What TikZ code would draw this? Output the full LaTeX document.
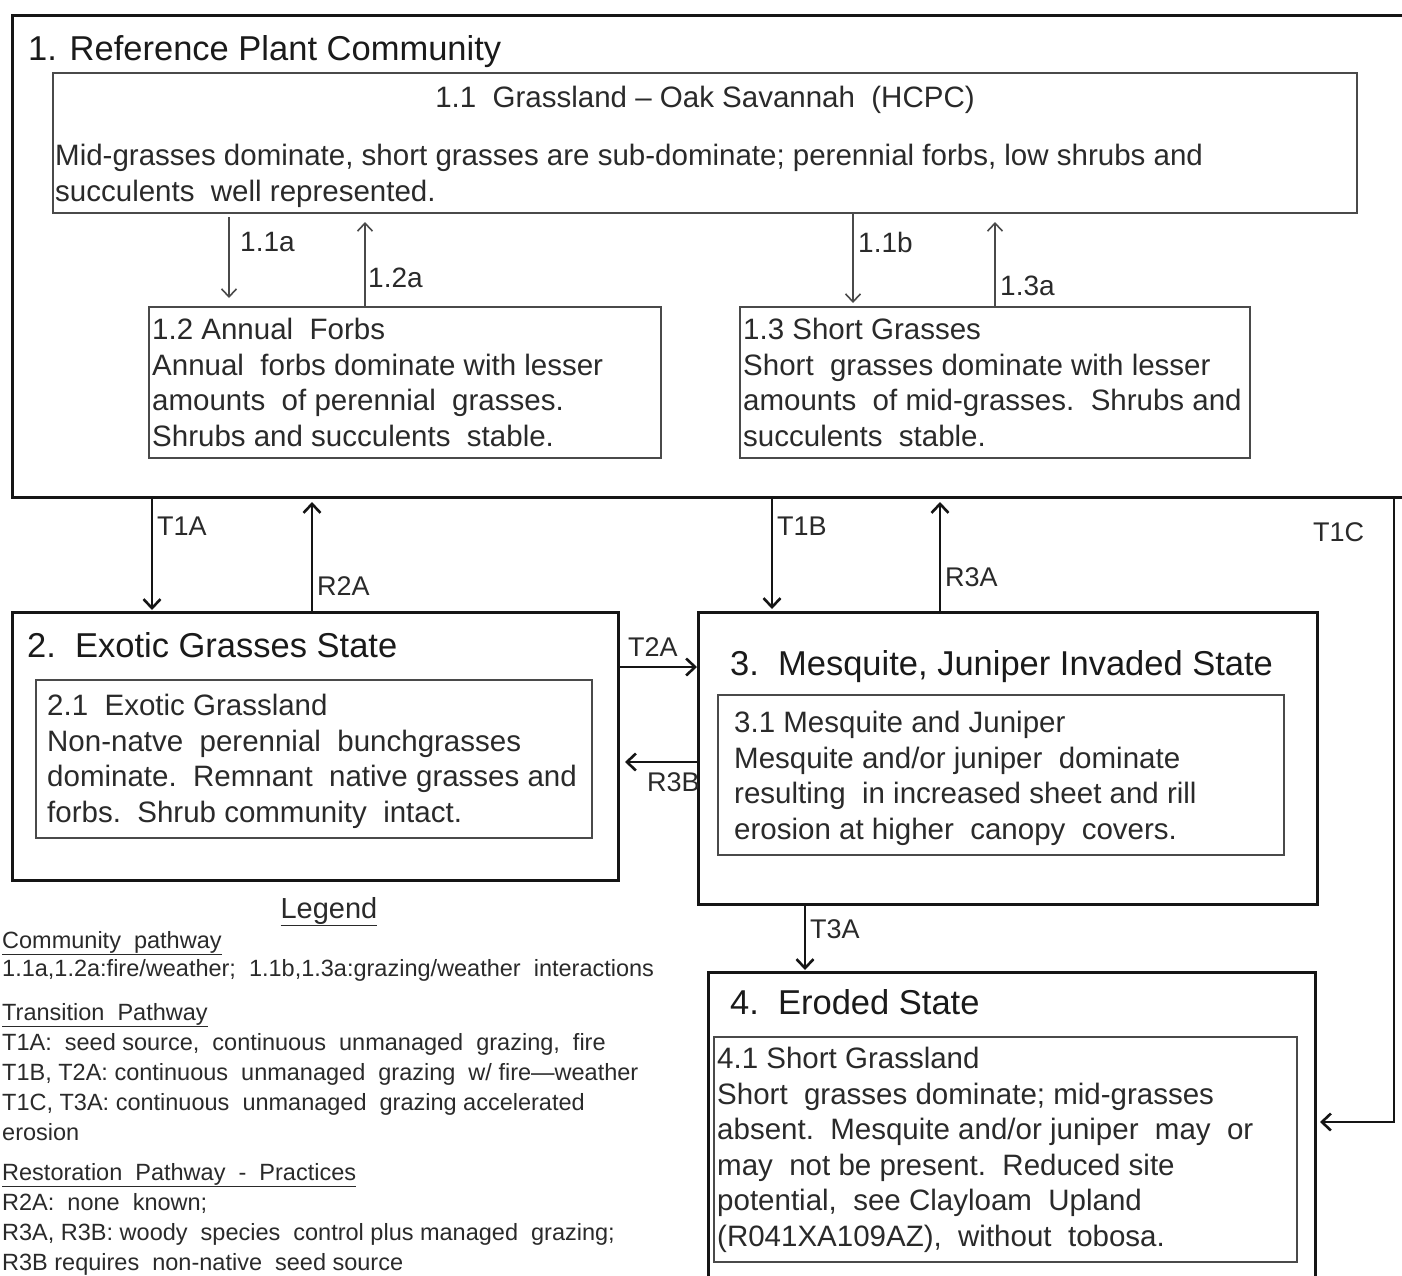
\documentclass[tikz,border=0pt]{standalone}
\usepackage{fontspec}
\setmainfont{Liberation Sans}
\usetikzlibrary{arrows.meta,calc}
\definecolor{ink}{HTML}{1A1A1A}
\definecolor{txt}{HTML}{2A2A2A}
\definecolor{thin}{HTML}{4A4A4A}
\definecolor{frame}{HTML}{151515}
\newcommand\rbox[6]{\node[#6, minimum width={(#4-#2)*1pt}, minimum height={(#5-#3)*1pt}] (#1) at (#2,#3) {};}
\begin{document}
\begin{tikzpicture}[x=1pt,y=-1pt,
  statebox/.style={draw=frame, line width=3pt, inner sep=0pt, outer sep=0pt, anchor=north west},
  subbox/.style={draw=thin, line width=1.8pt, inner sep=0pt, outer sep=0pt, anchor=north west},
  bodytxt/.style={anchor=north west, inner sep=0pt, align=left, text=txt, font=\fontsize{29.5}{35.5}\selectfont},
  titletxt/.style={anchor=north west, inner sep=0pt, text=ink, font=\fontsize{34.5}{40}\selectfont},
  lbl/.style={anchor=north west, inner sep=0pt, text=txt, font=\fontsize{27}{30}\selectfont},
  legtxt/.style={anchor=north west, inner sep=0pt, align=left, text=txt, font=\fontsize{23.5}{30}\selectfont},
  thinarr/.style={draw=thin, line width=1.6pt, -{Straight Barb[length=8pt,width=15pt]}},
  thickarr/.style={draw=frame, line width=2.6pt, -{Straight Barb[length=9pt,width=17pt]}}]
\useasboundingbox (0,0) rectangle (1402,1275);
\fill[white] (0,0) rectangle (1402,1275);
\clip (0,0) rectangle (1402,1275);

% boxes
\rbox{b1}{12}{15}{1412}{497}{statebox}
\rbox{b11}{53}{73}{1357}{213}{subbox}
\rbox{b12}{149}{307}{661}{458}{subbox}
\rbox{b13}{740}{307}{1250}{458}{subbox}
\rbox{b2}{12}{612}{618}{880}{statebox}
\rbox{b21}{36}{680}{592}{838}{subbox}
\rbox{b3}{698}{612}{1317}{904}{statebox}
\rbox{b31}{718}{695}{1284}{855}{subbox}
\rbox{b4}{708}{972}{1315}{1290}{statebox}
\rbox{b41}{714}{1037}{1297}{1262}{subbox}

% texts
\node[titletxt] (t1) at (28,35) {1. Reference Plant Community};
\node[bodytxt, anchor=north] (t11h) at (705,86) {1.1\ \ Grassland -- Oak Savannah\ \ (HCPC)};
\node[bodytxt] (t11) at (55,144) {Mid-grasses dominate, short grasses are sub-dominate; perennial forbs, low shrubs and\\succulents\ \ well represented.};
\node[bodytxt] (t12) at (152,318) {1.2 Annual\ \ Forbs\\Annual\ \ forbs dominate with lesser\\amounts\ \ of perennial\ \ grasses.\\Shrubs and succulents\ \ stable.};
\node[bodytxt] (t13) at (743,318) {1.3 Short Grasses\\Short\ \ grasses dominate with lesser\\amounts\ \ of mid-grasses.\ \ Shrubs and\\succulents\ \ stable.};
\node[titletxt] (t2) at (27,632) {2.\ \ Exotic Grasses State};
\node[bodytxt] (t21) at (47,694) {2.1\ \ Exotic Grassland\\Non-natve\ \ perennial\ \ bunchgrasses\\dominate.\ \ Remnant\ \ native grasses and\\forbs.\ \ Shrub community\ \ intact.};
\node[titletxt] (t3) at (730,650) {3.\ \ Mesquite, Juniper Invaded State};
\node[bodytxt] (t31) at (734,711) {3.1 Mesquite and Juniper\\Mesquite and/or juniper\ \ dominate\\resulting\ \ in increased sheet and rill\\erosion at higher\ \ canopy\ \ covers.};
\node[titletxt] (t4) at (730,989) {4.\ \ Eroded State};
\node[bodytxt] (t41) at (717,1047) {4.1 Short Grassland\\Short\ \ grasses dominate; mid-grasses\\absent.\ \ Mesquite and/or juniper\ \ may\ \ or\\may\ \ not be present.\ \ Reduced site\\potential,\ \ see Clayloam\ \ Upland\\(R041XA109AZ),\ \ without\ \ tobosa.};

% community pathway arrows
\coordinate (xa) at (229,0);
\coordinate (xb) at (365,0);
\coordinate (xc) at (853,0);
\coordinate (xd) at (995,0);
\draw[thinarr, shorten <=4pt, shorten >=9pt] (b11.south -| xa) -- (b12.north -| xa);
\draw[thinarr, shorten >=9pt] (b12.north -| xb) -- (b11.south -| xb);
\draw[thinarr, shorten >=4pt] (b11.south -| xc) -- (b13.north -| xc);
\draw[thinarr, shorten >=9pt] (b13.north -| xd) -- (b11.south -| xd);
\node[lbl, font=\fontsize{28}{30}\selectfont] (l11a) at (240,232) {1.1a};
\node[lbl, font=\fontsize{28}{30}\selectfont] (l12a) at (368,268) {1.2a};
\node[lbl, font=\fontsize{28}{30}\selectfont] (l11b) at (858,232) {1.1b};
\node[lbl, font=\fontsize{28}{30}\selectfont] (l13a) at (1000,276) {1.3a};

% transitions
\coordinate (xT1A) at (152,0);
\coordinate (xR2A) at (312,0);
\coordinate (xT1B) at (772,0);
\coordinate (xR3A) at (940,0);
\coordinate (yT2A) at (0,667);
\coordinate (yR3B) at (0,762);
\coordinate (xT3A) at (805,0);
\coordinate (cT1C) at (1394,1122);
\draw[thickarr, shorten >=2pt] (b1.south -| xT1A) -- (b2.north -| xT1A);
\draw[thickarr, shorten >=5pt] (b2.north -| xR2A) -- (b1.south -| xR2A);
\draw[thickarr, shorten >=3pt] (b1.south -| xT1B) -- (b3.north -| xT1B);
\draw[thickarr, shorten >=5pt] (b3.north -| xR3A) -- (b1.south -| xR3A);
\draw[thickarr, shorten <=1pt, shorten >=1pt] (b2.east |- yT2A) -- (b3.west |- yT2A);
\draw[thickarr, shorten >=7pt] (b3.west |- yR3B) -- (b2.east |- yR3B);
\draw[thickarr, shorten >=2pt] (b3.south -| xT3A) -- (b4.north -| xT3A);
\draw[thickarr, shorten >=5pt] (b1.south -| cT1C) -- (cT1C) -- (b4.east |- cT1C);
\node[lbl] (lT1A) at (157,517) {T1A};
\node[lbl] (lR2A) at (317,576) {R2A};
\node[lbl] (lT1B) at (777,517) {T1B};
\node[lbl] (lR3A) at (945,567) {R3A};
\node[lbl] (lT1C) at (1313,522) {T1C};
\node[lbl] (lT2A) at (628,637) {T2A};
\node[lbl] (lR3B) at (647,772) {R3B};
\node[lbl] (lT3A) at (810,919) {T3A};

% legend
\node[legtxt, anchor=north, font=\fontsize{29}{32}\selectfont] (leg) at (329,897) {\underline{Legend}};
\node[legtxt, font=\fontsize{23.5}{28}\selectfont] (lg1) at (2,931) {\underline{Community\ \ pathway}\\1.1a,1.2a:fire/weather;\ \ 1.1b,1.3a:grazing/weather\ \ interactions};
\node[legtxt] (lg2) at (2,1003) {\underline{Transition\ \ Pathway}\\T1A:\ \ seed source,\ \ continuous\ \ unmanaged\ \ grazing,\ \ fire\\T1B, T2A: continuous\ \ unmanaged\ \ grazing\ \ w/ fire---weather\\T1C, T3A: continuous\ \ unmanaged\ \ grazing accelerated\\erosion};
\node[legtxt] (lg3) at (2,1163) {\underline{Restoration\ \ Pathway\ \ -\ \ Practices}\\R2A:\ \ none\ \ known;\\R3A, R3B: woody\ \ species\ \ control plus managed\ \ grazing;\\R3B requires\ \ non-native\ \ seed source};
\end{tikzpicture}
\end{document}
